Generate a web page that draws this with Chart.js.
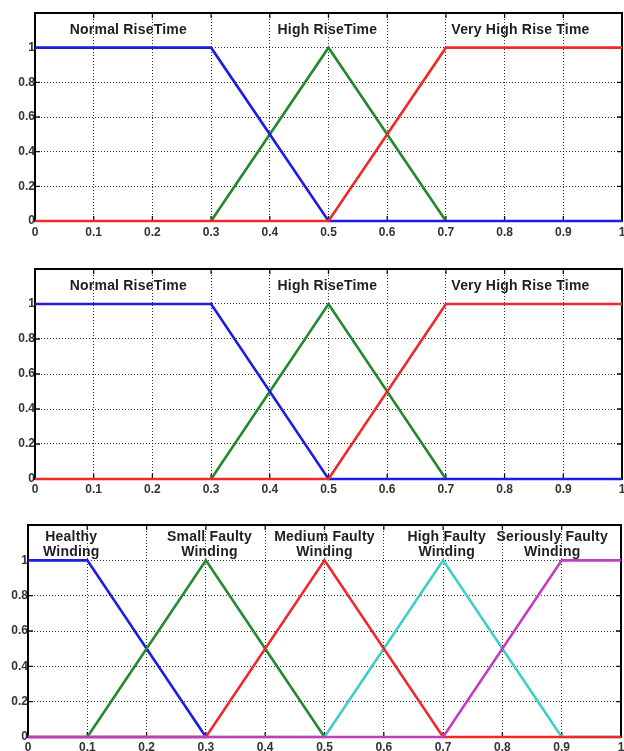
<!DOCTYPE html>
<html>
<head>
<meta charset="utf-8">
<script src="https://cdn.jsdelivr.net/npm/chart.js@4.4.1/dist/chart.umd.min.js"></script>
<style>
  html, body { margin: 0; padding: 0; background: #fff; }
  #wrap { position: relative; width: 624px; height: 751px; background: #fff; overflow: hidden; }
  #wrap canvas { position: absolute; left: 0; }
</style>
</head>
<body>
<div id="wrap">
  <canvas id="c1"></canvas>
  <canvas id="c2"></canvas>
  <canvas id="c3"></canvas>
</div>
<script>
// Axis ticks shared by all three membership-function plots
const xTickValues = [0, 0.1, 0.2, 0.3, 0.4, 0.5, 0.6, 0.7, 0.8, 0.9, 1];
const xTickLabels = ['0', '0.1', '0.2', '0.3', '0.4', '0.5', '0.6', '0.7', '0.8', '0.9', '1'];
const yTickValues = [0, 0.2, 0.4, 0.6, 0.8, 1];
const yTickLabels = ['0', '0.2', '0.4', '0.6', '0.8', '1'];

// Rise-time membership functions (top two plots)
const normalRiseX = [0, 0.3, 0.5, 1];
const normalRiseY = [1, 1, 0, 0];
const highRiseX = [0.3, 0.5, 0.7];
const highRiseY = [0, 1, 0];
const veryHighRiseX = [0, 0.5, 0.7, 1];
const veryHighRiseY = [0, 0, 1, 1];
const riseLabels = ['Normal RiseTime', 'High RiseTime', 'Very High Rise Time'];
const riseLabelX = [0.159, 0.498, 0.827];
const riseLabelY = [1.1, 1.1, 1.1];

// Winding condition membership functions (bottom plot)
const healthyX = [0, 0.1, 0.3];
const healthyY = [1, 1, 0];
const smallFaultyX = [0.1, 0.3, 0.5];
const smallFaultyY = [0, 1, 0];
const mediumFaultyX = [0, 0.3, 0.5, 0.7, 1];
const mediumFaultyY = [0, 0, 1, 0, 0];
const highFaultyX = [0, 0.5, 0.7, 0.9, 1];
const highFaultyY = [0, 0, 1, 0, 0];
const seriousFaultyX = [0, 0.7, 0.9, 1];
const seriousFaultyY = [0, 0, 1, 1];
const windingLabels = [
  ['Healthy', 'Winding'],
  ['Small Faulty', 'Winding'],
  ['Medium Faulty', 'Winding'],
  ['High Faulty', 'Winding'],
  ['Seriously Faulty', 'Winding']
];
const windingLabelX = [0.073, 0.306, 0.5, 0.706, 0.884];
const windingLabelY = [1.088, 1.088, 1.088, 1.088, 1.088];

const COLORS = {
  blue: '#1c1ce6',
  green: '#23892b',
  red: '#f02828',
  cyan: '#3ccfc6',
  magenta: '#c23cc0'
};

function points(xs, ys) {
  return xs.map((x, i) => ({ x: x, y: ys[i] }));
}

function series(xs, ys, color, order) {
  return {
    data: points(xs, ys),
    borderColor: color,
    borderWidth: 2.6,
    pointRadius: 0,
    tension: 0,
    fill: false,
    clip: false,
    order: order
  };
}

// Matlab-style frame: box around the axes and inward tick marks
const framePlugin = {
  id: 'frame',
  beforeDatasetsDraw(chart) {
    const { ctx, chartArea: a, scales } = chart;
    ctx.save();
    ctx.strokeStyle = '#111';
    ctx.lineWidth = 1.3;
    const len = 5;
    ctx.beginPath();
    xTickValues.forEach(v => {
      const px = scales.x.getPixelForValue(v);
      ctx.moveTo(px, a.bottom); ctx.lineTo(px, a.bottom - len);
      ctx.moveTo(px, a.top); ctx.lineTo(px, a.top + len);
    });
    yTickValues.forEach(v => {
      const py = scales.y.getPixelForValue(v);
      ctx.moveTo(a.left, py); ctx.lineTo(a.left + len, py);
      ctx.moveTo(a.right, py); ctx.lineTo(a.right - len, py);
    });
    ctx.stroke();
    ctx.lineWidth = 2;
    ctx.strokeStyle = '#000';
    ctx.strokeRect(a.left, a.top, a.right - a.left, a.bottom - a.top);
    ctx.restore();
  }
};

// Membership-function names written inside the axes
const namesPlugin = {
  id: 'names',
  afterDatasetsDraw(chart, args, opts) {
    const { ctx, scales } = chart;
    ctx.save();
    ctx.font = 'bold 14px "Liberation Sans", Arial, sans-serif';
    ctx.fillStyle = '#1e1e1e';
    ctx.textAlign = 'center';
    ctx.textBaseline = 'middle';
    if ('letterSpacing' in ctx) ctx.letterSpacing = '0.2px';
    const lineH = 15;
    opts.texts.forEach((lines, i) => {
      const arr = Array.isArray(lines) ? lines : [lines];
      const cx = scales.x.getPixelForValue(opts.xs[i]);
      const cy = scales.y.getPixelForValue(opts.ys[i]);
      const y0 = cy - (arr.length - 1) * lineH / 2;
      arr.forEach((t, j) => ctx.fillText(t, cx, y0 + j * lineH));
    });
    ctx.restore();
  }
};

function makePanel(id, box, datasets, names) {
  const canvas = document.getElementById(id);
  canvas.width = 624;
  canvas.height = box.canvasH;
  canvas.style.top = box.canvasTop + 'px';
  canvas.style.width = '624px';
  canvas.style.height = box.canvasH + 'px';

  const tickFont = { family: '"Liberation Sans", Arial, sans-serif', size: 12, weight: 'bold' };
  const xAxisH = box.canvasH - (box.bottom - box.canvasTop);

  return new Chart(canvas, {
    type: 'line',
    data: { datasets: datasets },
    options: {
      responsive: false,
      devicePixelRatio: 1,
      animation: false,
      events: [],
      layout: {
        padding: { top: box.top - box.canvasTop, right: 624 - box.right, bottom: 0, left: 0 }
      },
      plugins: {
        legend: { display: false },
        tooltip: { enabled: false },
        names: names
      },
      scales: {
        x: {
          type: 'linear',
          min: 0,
          max: 1,
          afterBuildTicks: s => { s.ticks = xTickValues.map(v => ({ value: v })); },
          afterFit: s => { s.height = xAxisH; s.paddingLeft = 0; s.paddingRight = 0; },
          ticks: {
            padding: box.xPad,
            maxRotation: 0,
            autoSkip: false,
            color: '#333',
            font: tickFont,
            callback: (v, i) => xTickLabels[i]
          },
          grid: { color: 'rgba(0,0,0,0.8)', lineWidth: 1, drawTicks: false },
          border: { display: false, dash: [1, 2] }
        },
        y: {
          type: 'linear',
          min: 0,
          max: 1.2,
          afterBuildTicks: s => { s.ticks = yTickValues.map(v => ({ value: v })); },
          afterFit: s => { s.width = box.left; s.paddingTop = 0; s.paddingBottom = 0; },
          ticks: {
            padding: 0,
            autoSkip: false,
            color: '#333',
            font: tickFont,
            callback: (v, i) => yTickLabels[i]
          },
          grid: { color: 'rgba(0,0,0,0.8)', lineWidth: 1, drawTicks: false },
          border: { display: false, dash: [1, 2] }
        }
      }
    },
    plugins: [framePlugin, namesPlugin]
  });
}

function riseDatasets() {
  return [
    series(veryHighRiseX, veryHighRiseY, COLORS.red, 0),
    series(normalRiseX, normalRiseY, COLORS.blue, 1),
    series(highRiseX, highRiseY, COLORS.green, 2)
  ];
}

const riseNames = { texts: riseLabels, xs: riseLabelX, ys: riseLabelY };

makePanel('c1', { canvasTop: 0, canvasH: 245, left: 35, right: 622, top: 13, bottom: 221, xPad: 4 },
  riseDatasets(), riseNames);

makePanel('c2', { canvasTop: 248, canvasH: 247, left: 35, right: 622, top: 269, bottom: 479, xPad: 3 },
  riseDatasets(), riseNames);

makePanel('c3', { canvasTop: 500, canvasH: 251, left: 28, right: 621, top: 525, bottom: 737, xPad: 3 },
  [
    series(seriousFaultyX, seriousFaultyY, COLORS.magenta, 0),
    series(mediumFaultyX, mediumFaultyY, COLORS.red, 1),
    series(highFaultyX, highFaultyY, COLORS.cyan, 2),
    series(smallFaultyX, smallFaultyY, COLORS.green, 3),
    series(healthyX, healthyY, COLORS.blue, 4)
  ],
  { texts: windingLabels, xs: windingLabelX, ys: windingLabelY });
</script>
</body>
</html>
